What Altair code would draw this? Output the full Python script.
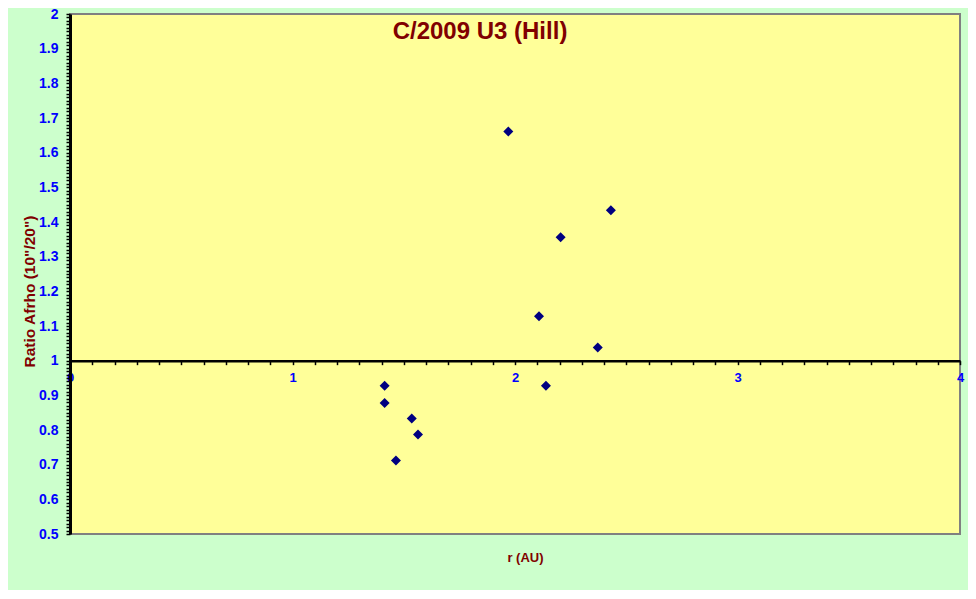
import altair as alt
import pandas as pd

# data
r_au = [1.970, 2.431, 2.205, 2.108, 2.372, 1.414, 2.139, 1.414, 1.536, 1.564, 1.465]
ratio = [1.661, 1.434, 1.356, 1.128, 1.038, 0.928, 0.928, 0.878, 0.833, 0.787, 0.712]

x_ticks = [round(i * 0.1, 1) for i in range(0, 41)]
y_ticks = [round(0.5 + i * 0.01, 2) for i in range(0, 151)]

title_text = ["C/2009 U3 (Hill)"]

FONT = "Liberation Sans"
W, H = 890, 520
y_min, y_max = 0.5, 2.0
axis_off = -H * (1.0 - y_min) / (y_max - y_min)

df = pd.DataFrame({"r": r_au, "ratio": ratio})

x_enc = alt.X(
    "r:Q",
    scale=alt.Scale(domain=[0, 4], nice=False, zero=False),
    axis=alt.Axis(
        values=x_ticks,
        offset=axis_off,
        labelExpr="abs(datum.value - round(datum.value)) < 1e-6 ? format(datum.value, 'd') : ''",
        labelFont=FONT, labelFontSize=13, labelFontWeight="bold", labelColor="#0000FF",
        labelPadding=7, labelFlush=False, labelOverlap=False,
        tickColor="#000000", tickSize=4, tickWidth=1.5,
        domainColor="#000000", domainWidth=2.5,
        grid=False,
        title="r (AU)", titleFont=FONT, titleFontSize=13, titleFontWeight="bold",
        titleColor="#800000", titleX=455, titleY=-axis_off + 23,
        titleBaseline="middle", titleAlign="center",
    ),
)
y_enc = alt.Y(
    "ratio:Q",
    scale=alt.Scale(domain=[y_min, y_max], nice=False, zero=False),
    axis=alt.Axis(
        values=y_ticks,
        labelExpr="round(datum.value * 100) % 10 == 0 ? format(datum.value, '~g') : ''",
        labelFont=FONT, labelFontSize=14, labelFontWeight="bold", labelColor="#0000FF",
        labelPadding=8, labelFlush=False, labelOverlap=False,
        tickColor="#000000", tickSize=4, tickWidth=1.5,
        domainColor="#000000", domainWidth=3,
        grid=False,
        title="Ratio Afrho (10\"/20\")", titleFont=FONT, titleFontSize=15.5,
        titleFontWeight="bold", titleColor="#800000",
        titleX=-41, titleY=277, titleAngle=270,
        titleBaseline="middle", titleAlign="center",
    ),
)

points = alt.Chart(df).mark_point(
    shape="diamond", filled=True, size=100, color="#000080", opacity=1
).encode(x=x_enc, y=y_enc)

title = alt.Chart(pd.DataFrame({"t": title_text})).mark_text(
    font=FONT, fontSize=24, fontWeight="bold", color="#800000",
    align="center", baseline="alphabetic",
).encode(x=alt.value(410), y=alt.value(25), text="t:N")

chart = alt.layer(points, title).properties(
    width=W, height=H,
    background="#CCFFCC",
    padding={"left": 62, "top": 6, "right": 8, "bottom": 56},
    autosize=alt.AutoSizeParams(type="none"),
).configure_view(
    fill="#FFFF99", stroke="#808080", strokeWidth=2
)

chart.save("out.html", embed_options={"renderer": "svg", "actions": False})
